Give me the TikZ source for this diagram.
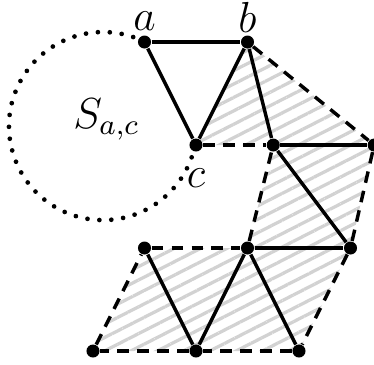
\documentclass[tikz,border=0pt]{standalone}
\usepackage{amsmath,amssymb}
\usetikzlibrary{positioning,backgrounds,patterns.meta}

\begin{document}
\begin{tikzpicture}[
  dot/.style={circle, fill=black, inner sep=0pt, minimum size=3.6pt},
  lbl/.style={font=\large, inner sep=2pt},
  edge/.style={draw, line width=0.95pt},
  dedge/.style={draw, line width=0.95pt, dash pattern=on 3.2pt off 2.3pt},
  dotline/.style={draw, line width=1.3pt, line cap=round, dash pattern=on 0pt off 3.3pt},
  hatch/.style={pattern={Lines[angle=27, distance=3.3pt, line width=0.9pt]},
                pattern color=gray!35},
]
  \useasboundingbox (-1.903,-2.126) rectangle (1.728,1.408);

  % vertices of the lattice
  \node[dot] (a) at (-0.5, 1) {};
  \node[dot] (b) at (0.5, 1) {};
  \node[dot] (c) at (0, 0) {};
  \node[dot] (d) at (0.75, 0) {};
  \node[dot] (e) at (1.73, 0) {};
  \node[dot] (f) at (1.5, -1) {};
  \node[dot] (g) at (0.5, -1) {};
  \node[dot] (h) at (-0.5, -1) {};
  \node[dot] (i) at (-1, -2) {};
  \node[dot] (j) at (0, -2) {};
  \node[dot] (k) at (1, -2) {};

  % labels
  \node[lbl, above=-1pt of a] (la) {$a$};
  \node[lbl, above=-1.5pt of b] (lb) {$b$};
  \node[lbl, below=2.5pt of c] (lc) {$c$};
  \node[lbl, anchor=base] (ls) at (-0.87, 0.165) {$S_{a,c}$};

  % hatched region
  \begin{scope}[on background layer]
    \fill[hatch] (c.center) -- (b.center) -- (e.center) -- (f.center)
      -- (k.center) -- (i.center) -- (h.center) -- (g.center) -- (d.center) -- cycle;
  \end{scope}

  % dotted circle S_{a,c}
  \coordinate (sc) at (-0.903, 0.184);
  \draw[dotline] (sc) ++(64:0.913) arc[start angle=64, end angle=348, radius=0.913];

  % solid edges
  \draw[edge] (a) -- (b);
  \draw[edge] (a) -- (c);
  \draw[edge] (c) -- (b);
  \draw[edge] (b) -- (d);
  \draw[edge] (d) -- (e);
  \draw[edge] (d) -- (f);
  \draw[edge] (g) -- (f);
  \draw[edge] (h) -- (j);
  \draw[edge] (j) -- (g);
  \draw[edge] (g) -- (k);

  % dashed boundary
  \draw[dedge] (b) -- (e);
  \draw[dedge] (e) -- (f);
  \draw[dedge] (f) -- (k);
  \draw[dedge] (k) -- (j);
  \draw[dedge] (j) -- (i);
  \draw[dedge] (i) -- (h);
  \draw[dedge] (h) -- (g);
  \draw[dedge] (g) -- (d);
  \draw[dedge] (c) -- (d);

\end{tikzpicture}
\end{document}
